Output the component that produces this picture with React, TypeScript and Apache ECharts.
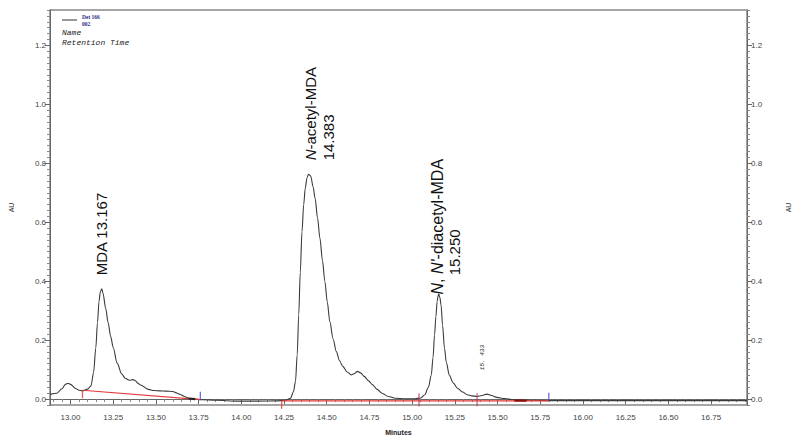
import React, { useEffect, useRef } from "react";
import * as echarts from "echarts";

// ---- Chromatogram trace (retention time in minutes, absorbance in AU) ----
const times = [
  12.88, 12.92, 12.95, 12.97, 12.985, 13.0, 13.03, 13.05, 13.07, 13.1, 13.12,
  13.135, 13.148, 13.158, 13.167, 13.175, 13.183, 13.19, 13.206, 13.22, 13.235,
  13.25, 13.273, 13.3, 13.32, 13.345, 13.365, 13.378, 13.395, 13.41, 13.455,
  13.49, 13.522, 13.56, 13.598, 13.625, 13.646, 13.67, 13.694, 13.72, 13.77,
  13.85, 13.98, 14.1, 14.2, 14.26, 14.288, 14.305, 14.317, 14.327, 14.336,
  14.345, 14.355, 14.365, 14.374, 14.385, 14.393, 14.4, 14.407, 14.42, 14.432,
  14.446, 14.46, 14.475, 14.489, 14.503, 14.518, 14.537, 14.556, 14.575, 14.594,
  14.62, 14.643, 14.66, 14.68, 14.7, 14.719, 14.745, 14.767, 14.795, 14.824,
  14.86, 14.901, 14.96, 15.016, 15.05, 15.074, 15.095, 15.112, 15.122, 15.131,
  15.139, 15.146, 15.152, 15.156, 15.162, 15.169, 15.178, 15.189, 15.2, 15.217,
  15.24, 15.265, 15.295, 15.322, 15.35, 15.38, 15.41, 15.437, 15.465, 15.495,
  15.54, 15.591, 15.7, 15.8, 16.0, 16.5, 16.96,
];
const absorbance = [
  0.016, 0.02, 0.035, 0.05, 0.054, 0.05, 0.036, 0.03, 0.028, 0.034, 0.045,
  0.09, 0.173, 0.26, 0.332, 0.365, 0.374, 0.36, 0.308, 0.26, 0.213,
  0.175, 0.122, 0.085, 0.071, 0.064, 0.066, 0.063, 0.054, 0.048, 0.033,
  0.029, 0.028, 0.027, 0.026, 0.02, 0.015, 0.008, 0.003, 0.0, -0.002,
  -0.004, -0.007, -0.007, -0.006, -0.004, 0.003, 0.025, 0.06, 0.15, 0.286,
  0.43, 0.568, 0.66, 0.715, 0.752, 0.763, 0.76, 0.755, 0.72, 0.681,
  0.615, 0.546, 0.47, 0.399, 0.33, 0.263, 0.205, 0.161, 0.13, 0.111,
  0.092, 0.082, 0.086, 0.094, 0.088, 0.077, 0.062, 0.049, 0.033, 0.02,
  0.009, 0.003, 0.001, 0.001, 0.004, 0.015, 0.04, 0.082, 0.14, 0.218,
  0.28, 0.331, 0.352, 0.356, 0.345, 0.32, 0.25, 0.173, 0.125, 0.082,
  0.055, 0.037, 0.024, 0.015, 0.011, 0.009, 0.012, 0.017, 0.012, 0.006,
  0.002, -0.002, -0.004, -0.005, -0.005, -0.005, -0.005,
];

// ---- Integration baselines ----
const baseline1Times = [13.07, 13.76];
const baseline1Au = [0.03, -0.002];
const baseline2Times = [14.236, 15.8];
const baseline2Au = [-0.006, -0.006];
const darkSeg1Times = [13.69, 13.73];
const darkSeg1Au = [0.002, 0.0];
const darkSeg2Times = [15.6, 15.67];
const darkSeg2Au = [-0.005, -0.005];

// ---- Peak start / end markers ----
const redStartTimes = [13.07, 14.236];
const redStartAu = [0.03, -0.006];
const crossTimes = [15.04, 15.38];
const crossAu = [-0.003, -0.002];
const blueEndTimes = [13.76, 15.8];
const blueEndAu = [-0.002, -0.006];

// ---- Axis ticks ----
const xTickValues = [
  13.0, 13.25, 13.5, 13.75, 14.0, 14.25, 14.5, 14.75, 15.0, 15.25, 15.5, 15.75,
  16.0, 16.25, 16.5, 16.75,
];
const yTickValues = [0.0, 0.2, 0.4, 0.6, 0.8, 1.0, 1.2];
const X_MIN = 12.88;
const X_MAX = 16.96;
const Y_MIN = -0.02;
const Y_MAX = 1.32;

// ---- Peak annotations ----
const peakLabelTexts = [
  "MDA 13.167",
  "{i|N}-acetyl-MDA\n14.383",
  "{i|N}, {i|N'}-diacetyl-MDA",
  "15.250",
];
const peakLabelTimes = [13.184, 14.455, 15.15, 15.248];
const peakLabelAu = [0.42, 0.81, 0.355, 0.42];
const smallLabelText = "15. 433";
const smallLabelTime = 15.414;
const smallLabelAu = 0.098;

const xMinor: number[] = [];
for (let i = 0; i <= 81; i++) {
  const v = Math.round((12.9 + i * 0.05) * 1000) / 1000;
  if (v > X_MAX) break;
  if (!xTickValues.some((m) => Math.abs(m - v) < 1e-6)) xMinor.push(v);
}
const yMinor: number[] = [];
for (let i = -1; i <= 66; i++) {
  if (i % 10 === 0) continue;
  yMinor.push(Math.round(i * 0.02 * 1000) / 1000);
}

const zip = (a: number[], b: number[]) => a.map((t, i) => [t, b[i]]);

const labelFont = "Liberation Sans, Arial, sans-serif";
const axisColor = "#666";
const redColor = "#e23a3a";

function yAxes(position: "left" | "right") {
  return [
    {
      type: "value",
      min: Y_MIN,
      max: Y_MAX,
      position,
      name: "AU",
      nameLocation: "middle",
      nameRotate: 90,
      nameGap: position === "left" ? 35 : 38,
      nameTextStyle: { fontSize: 7, color: "#333", fontFamily: labelFont },
      axisLine: { show: true, lineStyle: { color: axisColor, width: 1 } },
      axisTick: {
        show: true,
        customValues: yTickValues,
        length: 5,
        lineStyle: { color: axisColor },
      },
      axisLabel: {
        customValues: yTickValues,
        formatter: (v: number) => v.toFixed(1),
        fontSize: 8,
        color: "#444",
        margin: 4,
        fontFamily: labelFont,
      },
      splitLine: { show: false },
    },
    {
      type: "value",
      min: Y_MIN,
      max: Y_MAX,
      position,
      axisLine: { show: false },
      axisTick: {
        show: true,
        customValues: yMinor,
        length: 3,
        lineStyle: { color: "#888" },
      },
      axisLabel: { show: false },
      splitLine: { show: false },
    },
  ];
}

export default function App() {
  const ref = useRef<HTMLDivElement>(null);

  useEffect(() => {
    if (!ref.current) return;
    const chart = echarts.init(ref.current, null, { renderer: "svg" });

    const markerSeries = (
      ts: number[],
      vs: number[],
      color: string,
      size: number,
      offset: number
    ) => ({
      type: "scatter",
      xAxisIndex: 0,
      yAxisIndex: 0,
      symbol: "rect",
      symbolSize: [1.3, size],
      symbolOffset: [0, offset],
      itemStyle: { color },
      silent: true,
      z: 6,
      data: zip(ts, vs),
    });

    const option: any = {
      animation: false,
      backgroundColor: "#fff",
      grid: {
        left: 45,
        right: 46,
        top: 10,
        bottom: 34,
        show: true,
        borderColor: "#888",
        borderWidth: 1.5,
        backgroundColor: "transparent",
      },
      xAxis: [
        {
          type: "value",
          min: X_MIN,
          max: X_MAX,
          position: "bottom",
          name: "Minutes",
          nameLocation: "middle",
          nameGap: 24,
          nameTextStyle: {
            fontSize: 7,
            fontWeight: "bold",
            color: "#222",
            fontFamily: labelFont,
          },
          axisLine: { show: true, lineStyle: { color: axisColor, width: 1 } },
          axisTick: {
            show: true,
            customValues: xTickValues,
            length: 5,
            lineStyle: { color: axisColor },
          },
          axisLabel: {
            customValues: xTickValues,
            formatter: (v: number) => v.toFixed(2),
            fontSize: 8,
            color: "#444",
            margin: 8,
            fontFamily: labelFont,
          },
          splitLine: { show: false },
        },
        {
          type: "value",
          min: X_MIN,
          max: X_MAX,
          position: "bottom",
          axisLine: { show: false },
          axisTick: {
            show: true,
            customValues: xMinor,
            length: 3,
            lineStyle: { color: "#888" },
          },
          axisLabel: { show: false },
          splitLine: { show: false },
        },
      ],
      yAxis: [...yAxes("left"), ...yAxes("right")],
      series: [
        {
          type: "line",
          xAxisIndex: 0,
          yAxisIndex: 0,
          data: zip(times, absorbance),
          showSymbol: false,
          smooth: 0.3,
          smoothMonotone: "x",
          lineStyle: { color: "#3a3a3a", width: 1.1 },
          silent: true,
          z: 3,
        },
        {
          type: "line",
          xAxisIndex: 0,
          yAxisIndex: 0,
          data: zip(baseline1Times, baseline1Au),
          showSymbol: false,
          lineStyle: { color: redColor, width: 1.2 },
          silent: true,
          z: 4,
        },
        {
          type: "line",
          xAxisIndex: 0,
          yAxisIndex: 0,
          data: zip(baseline2Times, baseline2Au),
          showSymbol: false,
          lineStyle: { color: redColor, width: 1.2 },
          silent: true,
          z: 4,
        },
        {
          type: "line",
          xAxisIndex: 0,
          yAxisIndex: 0,
          data: zip(darkSeg1Times, darkSeg1Au),
          showSymbol: false,
          lineStyle: { color: "#222", width: 2.2 },
          silent: true,
          z: 5,
        },
        {
          type: "line",
          xAxisIndex: 0,
          yAxisIndex: 0,
          data: zip(darkSeg2Times, darkSeg2Au),
          showSymbol: false,
          lineStyle: { color: "#8a1010", width: 2.2 },
          silent: true,
          z: 5,
        },
        markerSeries(redStartTimes, redStartAu, redColor, 8, 4),
        markerSeries(crossTimes, crossAu, "#c03a5a", 13, 0),
        markerSeries(blueEndTimes, blueEndAu, "#4a4ad0", 8, -4),
      ],
    };
    chart.setOption(option);

    const px = (t: number, v: number) =>
      chart.convertToPixel({ gridIndex: 0 } as any, [t, v]) as number[];

    const peakSizes = [15, 15, 16, 15];
    const graphics: any[] = peakLabelTexts.map((txt, i) => {
      const p = px(peakLabelTimes[i], peakLabelAu[i]);
      return {
        type: "text",
        x: p[0],
        y: p[1],
        rotation: Math.PI / 2,
        silent: true,
        style: {
          text: txt,
          fontSize: peakSizes[i],
          fontFamily: labelFont,
          fill: "#111",
          align: "left",
          verticalAlign: "middle",
          lineHeight: 18,
          rich: {
            i: {
              fontStyle: "italic",
              fontSize: peakSizes[i],
              fontFamily: labelFont,
              fill: "#111",
              lineHeight: 18,
            },
          },
        },
      };
    });
    const sp = px(smallLabelTime, smallLabelAu);
    graphics.push({
      type: "text",
      x: sp[0],
      y: sp[1],
      rotation: Math.PI / 2,
      silent: true,
      style: {
        text: smallLabelText,
        fontSize: 6,
        fontStyle: "italic",
        fontFamily: "Liberation Mono, monospace",
        fill: "#222",
        align: "left",
        verticalAlign: "middle",
      },
    });
    // legend / header block
    graphics.push(
      {
        type: "line",
        shape: { x1: 62, y1: 20, x2: 77, y2: 20 },
        style: { stroke: "#333", lineWidth: 1 },
        silent: true,
      },
      {
        type: "text",
        x: 82,
        y: 17,
        silent: true,
        style: {
          text: "Det 166",
          fontSize: 5.5,
          fontWeight: "bold",
          fontFamily: "Liberation Serif, serif",
          fill: "#2a2a8a",
          verticalAlign: "middle",
        },
      },
      {
        type: "text",
        x: 82,
        y: 23.5,
        silent: true,
        style: {
          text: "002",
          fontSize: 5.5,
          fontWeight: "bold",
          fontFamily: "Liberation Serif, serif",
          fill: "#2a2a8a",
          verticalAlign: "middle",
        },
      },
      {
        type: "text",
        x: 62,
        y: 32,
        silent: true,
        style: {
          text: "Name",
          fontSize: 8,
          fontStyle: "italic",
          fontFamily: "Liberation Mono, monospace",
          fill: "#222",
          verticalAlign: "middle",
        },
      },
      {
        type: "text",
        x: 62,
        y: 42,
        silent: true,
        style: {
          text: "Retention Time",
          fontSize: 8,
          fontStyle: "italic",
          fontFamily: "Liberation Mono, monospace",
          fill: "#222",
          verticalAlign: "middle",
        },
      }
    );
    chart.setOption({ graphic: graphics });

    return () => chart.dispose();
  }, []);

  return (
    <div
      ref={ref}
      style={{
        position: "fixed",
        left: 0,
        top: 0,
        width: 800,
        height: 441,
        background: "#fff",
      }}
    />
  );
}
